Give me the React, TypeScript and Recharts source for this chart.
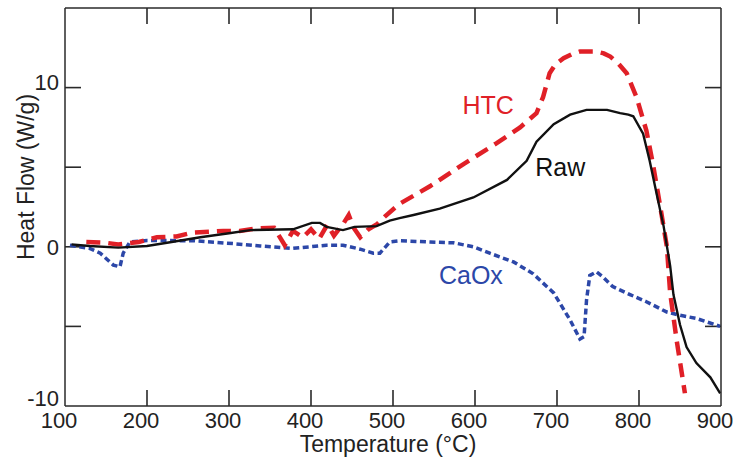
import React from 'react';
import { ComposedChart, Line, Scatter, XAxis, YAxis, ReferenceLine } from 'recharts';

const rawT = [108, 130, 165, 200, 230, 265, 300, 326, 378, 401, 411, 419, 439, 453, 480, 496, 508, 525, 557, 598, 639, 663, 675, 696, 716, 736, 761, 777, 787, 793, 805, 813, 822, 830, 838, 842, 850, 858, 870, 887, 899];
const rawV = [0.15, 0.05, -0.05, 0.05, 0.3, 0.6, 0.85, 1.05, 1.1, 1.5, 1.5, 1.25, 1.05, 1.25, 1.3, 1.65, 1.8, 2.0, 2.4, 3.1, 4.2, 5.4, 6.6, 7.7, 8.3, 8.6, 8.6, 8.4, 8.3, 8.2, 7.1, 5.4, 3.2, 1.3, -1.2, -3.0, -4.9, -6.3, -7.3, -8.2, -9.2];

const htcT = [126, 150, 165, 190, 212, 236, 256, 277, 293, 313, 334, 355, 368, 378, 390, 400, 410, 420, 428, 440, 446, 452, 460, 470, 480, 490, 508, 545, 586, 626, 655, 675, 683, 691, 698, 708, 718, 728, 748, 757, 765, 775, 785, 797, 809, 817, 826, 834, 838, 846, 856];
const htcV = [0.3, 0.25, 0.15, 0.3, 0.6, 0.65, 0.9, 0.95, 1.0, 1.0, 1.15, 1.2, 0.1, 1.0, 0.6, 1.1, 0.5, 1.4, 0.7, 1.5, 2.0, 1.2, 0.6, 1.1, 1.4, 1.9, 2.7, 3.8, 5.2, 6.5, 7.5, 8.4, 9.4, 10.9, 11.45, 11.85, 12.1, 12.26, 12.26, 12.15, 11.95, 11.5, 10.9, 9.4, 7.3, 5.2, 2.5, 0.0, -2.9, -5.9, -9.2];

const caoxT = [106, 130, 143, 159, 167, 171, 179, 200, 257, 305, 338, 378, 419, 439, 460, 476, 484, 496, 509, 545, 574, 598, 618, 647, 671, 696, 716, 728, 733, 736, 740, 748, 756, 768, 789, 809, 834, 850, 870, 899];
const caoxV = [0.1, -0.1, -0.4, -1.15, -1.26, -0.4, 0.3, 0.4, 0.38, 0.2, 0.05, -0.1, 0.1, 0.1, -0.15, -0.4, -0.4, 0.3, 0.38, 0.3, 0.25, 0.0, -0.4, -0.95, -1.7, -2.9, -4.6, -5.8, -5.65, -3.35, -1.8, -1.57, -1.9, -2.5, -3.0, -3.45, -4.1, -4.3, -4.5, -5.0];

const seriesNames = ['HTC', 'Raw', 'CaOx'];
const seriesLabelT = [616, 704, 595];
const seriesLabelV = [8.9, 5.0, -1.78];
const seriesColors = ['#e02027', '#111111', '#2c47a8'];

const xTicks = [100, 200, 300, 400, 500, 600, 700, 800, 900];
const yTicks = [-10, -5, 0, 5, 10, 15];
const yLabelTicks = [-10, 0, 10];
const innerXTicks = [200, 300, 400, 500, 600, 700, 800];
const innerYTicks = [-5, 0, 5, 10];

const X_MIN = 100;
const X_MAX = 900;
const Y_MIN = -10;
const Y_MAX = 15;
// tick mark lengths expressed in data units (≈16px)
const TICK_DX = 19.5;
const TICK_DY = 1.0;

const rawData = rawT.map((t, i) => ({ t, v: rawV[i] }));
const htcData = htcT.map((t, i) => ({ t, v: htcV[i] }));
const caoxData = caoxT.map((t, i) => ({ t, v: caoxV[i] }));
const labelData = seriesNames.map((name, i) => ({ t: seriesLabelT[i], v: seriesLabelV[i], name, color: seriesColors[i] }));

const FONT = '"Liberation Sans", Arial, Helvetica, sans-serif';
const AXIS = '#2a2a2a';

function BottomTick(props: any) {
  const { x, y, payload } = props;
  return (
    <text x={x - 6} y={y + 22} textAnchor="middle" fontSize={22} fill="#222" fontFamily={FONT}>
      {payload.value}
    </text>
  );
}

const labelShift: Record<string, number> = { '10': 2, '0': 8.5, '-10': 0 };

function LeftTick(props: any) {
  const { x, y, payload } = props;
  const v = payload.value;
  if (!yLabelTicks.includes(v)) return <g />;
  return (
    <text x={x - 6} y={y + (labelShift[String(v)] ?? 8)} textAnchor="end" fontSize={22} fill="#222" fontFamily={FONT}>
      {v}
    </text>
  );
}

function EmptyTick() {
  return <g />;
}

function XTitle(props: any) {
  const vb = props.viewBox || {};
  return (
    <text x={vb.x + vb.width / 2 - 5} y={vb.y + 46} textAnchor="middle" fontSize={23} fill="#222" fontFamily={FONT}>
      Temperature (°C)
    </text>
  );
}

function YTitle(props: any) {
  const vb = props.viewBox || {};
  const cx = 33.5;
  const cy = vb.y + vb.height / 2 - 30;
  return (
    <text x={cx} y={cy} transform={`rotate(-90, ${cx}, ${cy})`} textAnchor="middle" fontSize={23} fill="#222" fontFamily={FONT}>
      Heat Flow (W/g)
    </text>
  );
}

function SeriesLabel(props: any) {
  const { cx, cy, payload } = props;
  return (
    <text x={cx} y={cy + 9} textAnchor="middle" fontSize={25} fill={payload.color} fontFamily={FONT}>
      {payload.name}
    </text>
  );
}

const tickStroke = { stroke: AXIS, strokeWidth: 1.6 };

export default function App() {
  return (
    <div style={{ position: 'absolute', left: 0, top: 0, width: 734, height: 459, background: '#fff' }}>
      <ComposedChart width={734} height={459} margin={{ top: 7, right: 12, bottom: 0, left: 0 }}>
        <XAxis
          xAxisId="main"
          dataKey="t"
          type="number"
          domain={[X_MIN, X_MAX]}
          ticks={xTicks}
          height={53}
          tickSize={0}
          tickMargin={0}
          tickLine={false}
          axisLine={{ stroke: AXIS, strokeWidth: 1.5 }}
          tick={<BottomTick />}
          interval={0}
          label={{ content: <XTitle /> }}
        />
        <XAxis
          xAxisId="top"
          orientation="top"
          dataKey="t"
          type="number"
          domain={[X_MIN, X_MAX]}
          ticks={xTicks}
          height={1}
          tickSize={0}
          tickMargin={0}
          tickLine={false}
          axisLine={{ stroke: AXIS, strokeWidth: 1.5 }}
          tick={<EmptyTick />}
          interval={0}
        />
        <YAxis
          yAxisId="main"
          type="number"
          domain={[Y_MIN, Y_MAX]}
          ticks={yTicks}
          width={65}
          tickSize={0}
          tickMargin={0}
          tickLine={false}
          axisLine={{ stroke: AXIS, strokeWidth: 1.5 }}
          tick={<LeftTick />}
          interval={0}
          label={{ content: <YTitle /> }}
        />
        <YAxis
          yAxisId="right"
          orientation="right"
          type="number"
          domain={[Y_MIN, Y_MAX]}
          ticks={yTicks}
          width={1}
          tickSize={0}
          tickMargin={0}
          tickLine={false}
          axisLine={{ stroke: AXIS, strokeWidth: 1.5 }}
          tick={<EmptyTick />}
          interval={0}
        />
        {innerXTicks.map((t) => (
          <ReferenceLine
            key={`xb${t}`}
            xAxisId="main"
            yAxisId="main"
            segment={[{ x: t, y: Y_MIN }, { x: t, y: Y_MIN + TICK_DY }]}
            {...tickStroke}
            ifOverflow="visible"
          />
        ))}
        {innerXTicks.map((t) => (
          <ReferenceLine
            key={`xt${t}`}
            xAxisId="main"
            yAxisId="main"
            segment={[{ x: t, y: Y_MAX }, { x: t, y: Y_MAX - TICK_DY }]}
            {...tickStroke}
            ifOverflow="visible"
          />
        ))}
        {innerYTicks.map((v) => (
          <ReferenceLine
            key={`yl${v}`}
            xAxisId="main"
            yAxisId="main"
            segment={[{ x: X_MIN, y: v }, { x: X_MIN + TICK_DX, y: v }]}
            {...tickStroke}
            ifOverflow="visible"
          />
        ))}
        {innerYTicks.map((v) => (
          <ReferenceLine
            key={`yr${v}`}
            xAxisId="main"
            yAxisId="main"
            segment={[{ x: X_MAX, y: v }, { x: X_MAX - TICK_DX, y: v }]}
            {...tickStroke}
            ifOverflow="visible"
          />
        ))}
        <Line xAxisId="main" yAxisId="main" data={caoxData} dataKey="v" stroke="#2c47a8" strokeWidth={3.5}
          strokeDasharray="6 3.5" dot={false} type="linear" isAnimationActive={false} />
        <Line xAxisId="top" yAxisId="right" data={htcData} dataKey="v" stroke="#e02027" strokeWidth={4.5}
          strokeDasharray="14 8" dot={false} type="linear" isAnimationActive={false} />
        <Line xAxisId="main" yAxisId="main" data={rawData} dataKey="v" stroke="#111" strokeWidth={2.4}
          dot={false} type="linear" isAnimationActive={false} />
        <Scatter xAxisId="main" yAxisId="main" data={labelData} dataKey="v" shape={<SeriesLabel />} isAnimationActive={false} />
      </ComposedChart>
    </div>
  );
}
